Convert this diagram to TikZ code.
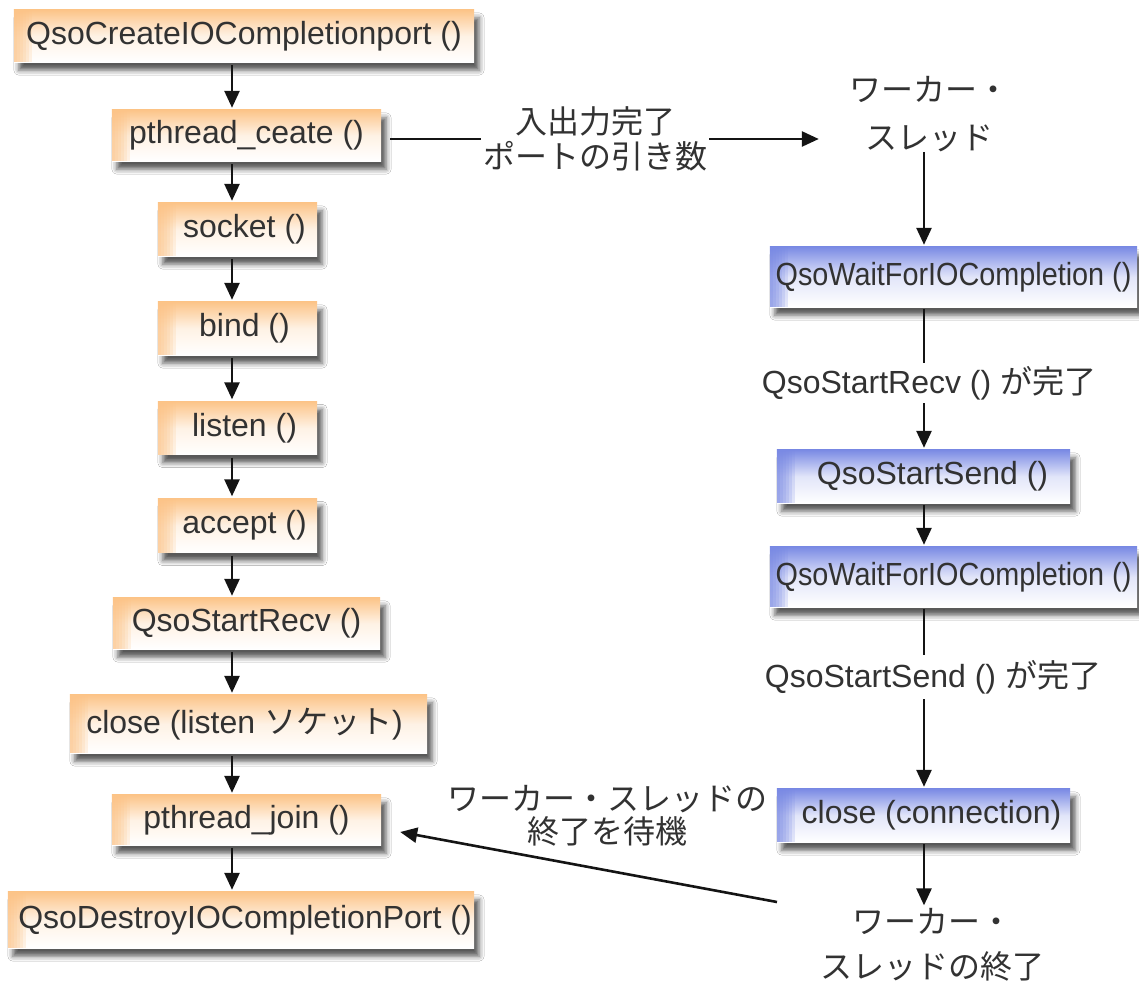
\documentclass[tikz,border=0pt]{standalone}
\usepackage{fontspec}
\setmainfont{Liberation Sans}
\newfontfamily\jp{Noto Sans CJK JP}
\newfontfamily\narrowsans[FakeStretch=0.9]{Liberation Sans}
\usetikzlibrary{arrows.meta,shadows.blur}
\definecolor{boxorange}{RGB}{252,196,136}
\definecolor{boxblue}{RGB}{122,138,228}
\definecolor{txt}{RGB}{50,50,50}
\definecolor{ln}{RGB}{20,20,20}
\pgfdeclarelayer{bg}
\pgfsetlayers{bg,main}
\newcommand\boxbg[2]{%
  \shade[top color=#2, bottom color=white, middle color=#2!22,
    blur shadow={shadow xshift=5pt, shadow yshift=-8pt, shadow blur radius=5pt, shadow opacity=65}]
    (#1.north west) rectangle (#1.south east);
  \foreach \k in {1,...,6}
    \fill[#2, opacity=0.2] (#1.north west) rectangle ([xshift=3*\k pt]#1.south west);
}
\begin{document}
\begin{tikzpicture}[x=1pt,y=-1pt,
  fbox/.style={rectangle, inner sep=0pt, text=txt, font=\fontsize{32}{38}\selectfont},
  obox/.style={fbox},
  bbox/.style={fbox},
  lbl/.style={text=txt, inner sep=0pt, align=center, font=\fontsize{32}{38}\selectfont},
  arr/.style={draw=ln, line width=2.6pt, -{Triangle[length=17pt,width=15pt]}},
  ln/.style={draw=ln, line width=2.6pt}
]
\useasboundingbox (0,0) rectangle (1139,984);

% left column
\node[obox, minimum width=460pt, minimum height=52pt] (cr) at (244,36) {QsoCreateIOCompletionport ()};
\node[obox, minimum width=269pt, minimum height=51pt] (pc) at (246.5,135.5) {pthread\_ceate ()};
\node[obox, minimum width=159pt, minimum height=53pt] (so) at (237.5,229.5) {\hspace*{14pt}socket ()};
\node[obox, minimum width=159pt, minimum height=53pt] (bi) at (237.5,328.5) {\hspace*{14pt}bind ()};
\node[obox, minimum width=159pt, minimum height=53pt] (li) at (237.5,428) {\hspace*{14pt}listen ()};
\node[obox, minimum width=159pt, minimum height=54pt] (ac) at (237.5,525.5) {\hspace*{14pt}accept ()};
\node[obox, minimum width=267pt, minimum height=51pt] (sr) at (246.5,623.5) {QsoStartRecv ()};
\node[obox, minimum width=357pt, minimum height=58pt] (cl) at (248.5,724) {close (listen {\jp ソケット})\hspace*{8pt}};
\node[obox, minimum width=269pt, minimum height=50pt] (pj) at (246.5,820) {pthread\_join ()};
\node[obox, minimum width=466pt, minimum height=56pt] (de) at (241,920) {\hspace*{8pt}QsoDestroyIOCompletionPort ()};

% right column
\node[lbl, font=\jp\fontsize{32}{48}\selectfont, inner xsep=30pt] (w1) at (929,114) {ワーカー・\\スレッド};
\node[bbox, minimum width=367pt, minimum height=60pt, font=\narrowsans\fontsize{32}{38}\selectfont] (wf1) at (953.5,277) {QsoWaitForIOCompletion ()};
\node[lbl, inner ysep=3pt] (l2) at (929,383) {QsoStartRecv () {\jp が完了}};
\node[bbox, minimum width=293pt, minimum height=53pt] (ss) at (923.5,476.5) {\hspace*{18pt}QsoStartSend ()};
\node[bbox, minimum width=367pt, minimum height=60pt, font=\narrowsans\fontsize{32}{38}\selectfont] (wf2) at (953.5,577) {QsoWaitForIOCompletion ()};
\node[lbl, inner ysep=5pt] (l3) at (933,677) {QsoStartSend () {\jp が完了}};
\node[bbox, minimum width=293pt, minimum height=53pt] (cc) at (923.5,815.5) {\hspace*{16pt}close (connection)};
\node[lbl, font=\jp\fontsize{32}{45}\selectfont, inner ysep=3pt] (w2) at (932,945) {ワーカー・\\スレッドの終了};

% labels
\node[lbl, font=\jp\fontsize{32}{35}\selectfont, inner xsep=2pt] (lab1) at (595,139) {入出力完了\\ポートの引き数};
\node[lbl, font=\jp\fontsize{32}{33}\selectfont] (lab2) at (607,816) {ワーカー・スレッドの\\終了を待機};

% box backgrounds
\begin{pgfonlayer}{bg}
  \fill[white] (0,0) rectangle (1139,984);
  \foreach \n in {cr,pc,so,bi,li,ac,sr,cl,pj,de} {\boxbg{\n}{boxorange}}
  \foreach \n in {wf1,ss,wf2,cc} {\boxbg{\n}{boxblue}}
\end{pgfonlayer}

\coordinate (lc) at (232,0);
\coordinate (rc) at (924,0);
\coordinate (b1) at (777,902);

% left arrows
\foreach \a/\b in {cr/pc,pc/so,so/bi,bi/li,li/ac,ac/sr,sr/cl,cl/pj,pj/de}
  \draw[arr, shorten <=3pt, shorten >=2pt] (\a.south -| lc) -- (\b.north -| lc);

% to worker
\draw[ln, shorten <=9pt] (pc.east |- lab1.west) -- (lab1.west);
\draw[arr] (lab1.east) -- (w1.west |- lab1.east);

% right arrows
\draw[arr, shorten >=2pt] (w1.south -| rc) -- (wf1.north -| rc);
\draw[ln, shorten <=2pt] (wf1.south -| rc) -- (l2.north -| rc);
\draw[arr, shorten >=2pt] (l2.south -| rc) -- (ss.north -| rc);
\draw[arr, shorten <=2pt, shorten >=2pt] (ss.south -| rc) -- (wf2.north -| rc);
\draw[ln, shorten <=2pt] (wf2.south -| rc) -- (l3.north -| rc);
\draw[arr, shorten >=2pt] (l3.south -| rc) -- (cc.north -| rc);
\draw[arr, shorten <=2pt] (cc.south -| rc) -- (w2.north -| rc);

% back to join
\draw[arr] (b1) -- ([xshift=19pt,yshift=-12pt]pj.east);
\end{tikzpicture}
\end{document}
